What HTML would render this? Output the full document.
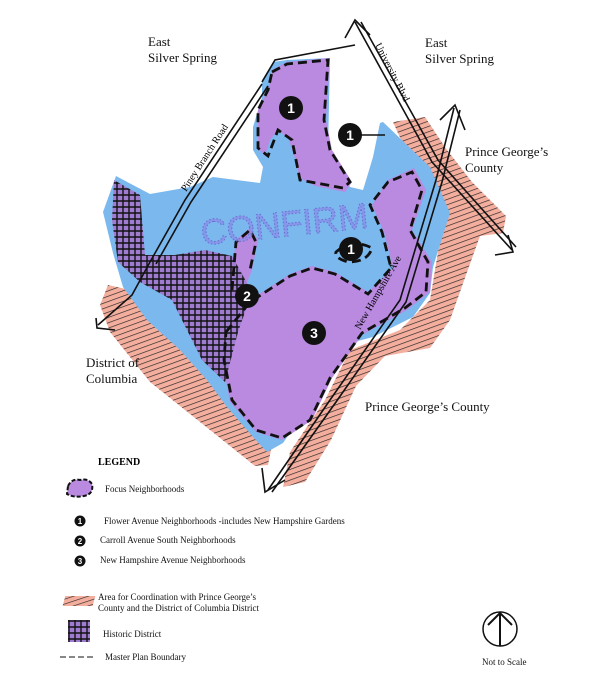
<!DOCTYPE html>
<html><head><meta charset="utf-8"><style>
body{margin:0;background:#fff;}
svg{display:block;font-family:"Liberation Serif",serif;}
</style></head><body>
<svg width="600" height="683" viewBox="0 0 600 683" xmlns="http://www.w3.org/2000/svg">
<defs>
<pattern id="hatch" width="5" height="5" patternUnits="userSpaceOnUse" patternTransform="rotate(70)">
<rect width="5" height="5" fill="#f4ae9e"/><line x1="0" y1="0" x2="0" y2="5" stroke="#222" stroke-width="1.3"/>
</pattern>
<pattern id="cross" width="6" height="6" patternUnits="userSpaceOnUse">
<rect width="6" height="6" fill="#a07cd0"/><path d="M0 3H6M3 0V6" stroke="#111" stroke-width="1.4"/>
</pattern>
</defs>
<path d="M108,285 L130,290 L170,330 L210,380 L272,445 L268,465 L255,466 L200,422 L150,382 L110,332 L100,305Z" fill="url(#hatch)"/>
<path d="M393,122 L425,117 L447,150 L472,182 L506,216 L503,233 L480,236 L466,275 L450,320 L430,348 L385,356 L356,386 L331,440 L305,482 L283,487 L290,452 L325,400 L350,350 L400,330 L430,300 L440,240 L430,190 L410,160Z" fill="url(#hatch)"/>
<path d="M103,212 L116,176 L150,194 L190,187 L213,177 L260,183 L263,167 L253,150 L253,127 L262,97 L262,80 L273,62 L287,60 L330,58 L328,150 L350,187 L363,190 L367,177 L373,157 L380,123 L383,122 L430,167 L450,213 L433,267 L430,293 L413,317 L373,337 L350,343 L340,360 L313,400 L283,443 L267,452 L253,437 L227,407 L207,380 L180,350 L147,320 L123,287 L113,253Z" fill="#7ab8ee"/>
<path d="M226,330 L250,300 L290,274 L312,266 L335,272 L368,292 L393,268 L384,232 L372,205 L388,180 L414,168 L426,190 L412,230 L432,262 L430,292 L407,310 L362,335 L332,378 L312,420 L282,440 L256,432 L230,402 L222,360Z" fill="#b98ae0"/>
<path d="M230,290 L236,240 L250,228 L258,240 L252,270 L240,300Z" fill="#b98ae0"/>
<path d="M272,70 L287,62 L330,58 L326,120 L332,150 L352,182 L345,192 L315,186 L300,178 L294,155 L288,138 L278,130 L270,140 L265,156 L258,148 L258,110 L268,90Z" fill="#b98ae0"/>
<path d="M114,180 L140,195 L145,255 L175,255 L205,250 L232,256 L252,292 L238,332 L225,382 L202,360 L172,300 L140,282 L118,262 L112,220Z" fill="url(#cross)"/>
<g fill="none" stroke="#111" stroke-width="2.8" stroke-dasharray="9,5">
<path d="M272,72 L287,64 L328,60 L324,120 L330,150 L350,182 L343,188 L300,180 L292,140 L278,130 L268,156 L258,148 L258,110 L268,90Z"/>
<path d="M226,332 L250,302 L290,276 L312,268 L335,274 L368,294 L391,268 L382,232 L370,205 L388,182 L412,172 L422,190 L410,230 L428,262 L426,292 L405,308 L362,333 L330,378 L310,420 L282,438 L256,430 L232,400 L224,360Z"/>
<path d="M232,290 L236,242 L250,230 L256,242 L250,270"/>
<path d="M336,252 Q352,238 372,248 Q368,262 348,262 Q334,258 336,252Z"/>
</g>
<g fill="none" stroke="#111" stroke-width="1.6">
<path d="M262,82 L275,60 L355,45"/>
<path d="M355,22 L432,162 L512,250"/><path d="M361,22 L438,160 L516,247"/>
<path d="M454,108 L436,180 L400,300 L330,400 L268,490"/><path d="M460,110 L442,182 L406,302 L336,402 L272,492"/>
<path d="M262,84 L185,200 L150,262"/><path d="M268,86 L191,202 L156,264"/>
<path d="M150,262 L132,295 L98,325"/>
<path d="M345,38 L355,20 L370,35"/><path d="M440,120 L455,105 L465,130"/>
<path d="M495,255 L513,252 L508,235"/><path d="M96,318 L97,328 L115,330"/>
<path d="M262,468 L265,492 L285,480"/>
<path d="M355,135 L385,135"/>
</g>
<text x="200" y="238" font-family="Liberation Sans,sans-serif" font-size="36" fill="#8a8ce8" fill-opacity="0.75" stroke="#6b6fcf" stroke-width="1" stroke-dasharray="1.5,2" transform="rotate(-6 270 220)">CONFIRM</text>
<g font-family="Liberation Sans,sans-serif" font-weight="bold" font-size="14" fill="#fff" text-anchor="middle">
<circle cx="291" cy="108" r="12" fill="#111"/><text x="291" y="113">1</text>
<circle cx="350" cy="135" r="12" fill="#111"/><text x="350" y="140">1</text>
<circle cx="351" cy="249" r="12" fill="#111"/><text x="351" y="254">1</text>
<circle cx="247" cy="296" r="12" fill="#111"/><text x="247" y="301">2</text>
<circle cx="314" cy="333" r="12" fill="#111"/><text x="314" y="338">3</text>
</g>
<g font-size="13" fill="#111">
<text x="148" y="46">East</text><text x="148" y="62">Silver Spring</text>
<text x="425" y="47">East</text><text x="425" y="63">Silver Spring</text>
<text x="465" y="156">Prince George’s</text><text x="465" y="172">County</text>
<text x="86" y="367">District of</text><text x="86" y="383">Columbia</text>
<text x="365" y="411">Prince George’s County</text>
</g>
<text x="186" y="192" font-size="10" transform="rotate(-57 186 192)">Piney  Branch Road</text>
<text x="375" y="45" font-size="10" transform="rotate(63 375 45)">University Blvd</text>
<text x="360" y="330" font-size="10" transform="rotate(-60 360 330)">New Hampshire Ave</text>
<text x="98" y="465" font-size="10" font-weight="bold">LEGEND</text>
<path d="M68,486 Q72,478 80,480 Q88,478 92,484 Q94,494 84,496 Q74,498 67,494Z" fill="#b98ae0" stroke="#111" stroke-width="2" stroke-dasharray="4,2"/>
<g font-size="9" fill="#111">
<text x="105" y="492">Focus Neighborhoods</text>
<text x="104" y="524">Flower Avenue Neighborhoods -includes New Hampshire Gardens</text>
<text x="100" y="543">Carroll Avenue South Neighborhoods</text>
<text x="100" y="563">New Hampshire Avenue Neighborhoods</text>
<text x="98" y="600">Area for Coordination with Prince George’s</text>
<text x="98" y="611">County and the District of Columbia  District</text>
<text x="103" y="637">Historic District</text>
<text x="105" y="660">Master Plan Boundary</text>
<text x="482" y="665">Not to Scale</text>
</g>
<g font-family="Liberation Sans,sans-serif" font-weight="bold" font-size="8" fill="#fff" text-anchor="middle">
<circle cx="80" cy="521" r="5.5" fill="#111"/><text x="80" y="524">1</text>
<circle cx="80" cy="541" r="5.5" fill="#111"/><text x="80" y="544">2</text>
<circle cx="80" cy="561" r="5.5" fill="#111"/><text x="80" y="564">3</text>
</g>
<rect x="65" y="596" width="30" height="10" fill="url(#hatch)" transform="skewX(-15) translate(160 0)"/>
<rect x="68" y="620" width="22" height="22" fill="url(#cross)"/>
<path d="M60,657 H95" stroke="#111" stroke-dasharray="6,3"/>
<circle cx="500" cy="629" r="17" fill="none" stroke="#111" stroke-width="1.5"/>
<path d="M500,612 V646 M488,625 L500,613 L512,625" fill="none" stroke="#111" stroke-width="2"/>
</svg>
</body></html>
